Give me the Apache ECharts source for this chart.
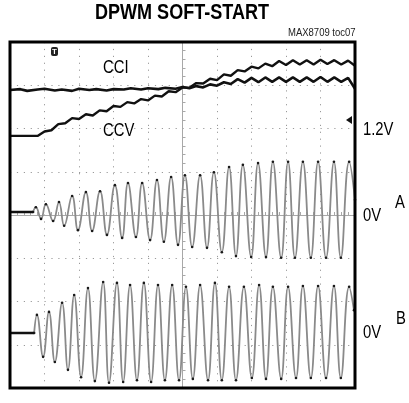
<!DOCTYPE html>
<html><head><meta charset="utf-8">
<script src="https://cdn.jsdelivr.net/npm/echarts@6/dist/echarts.min.js"></script>
<style>html,body{margin:0;padding:0;background:#fff}#c{width:409px;height:403px}</style>
</head><body><div id="c"></div>
<script>
// Units: screen divisions (x: 0..10, y: 0..8)
const title = "DPWM SOFT-START";
const note = "MAX8709 toc07";
const traceLabels = ["CCI", "CCV", "1.2V", "0V", "A", "0V", "B"];

const cciPts = [[0,6.89],[0.3,6.91],[0.5,6.87],[0.8,6.90],[1.0,6.92],[1.3,6.88],[1.5,6.90],[1.8,6.87],[2.0,6.92],[2.3,6.89],[2.5,6.91],[2.8,6.88],[3.0,6.91],[3.3,6.90],[3.5,6.93],[3.8,6.90],[4.0,6.93],[4.3,6.91],[4.5,6.94],[4.8,6.92],[5.0,6.96],[5.2,6.93],[5.4,6.98],[5.6,6.95],[5.8,7.02],[6.0,6.99],[6.2,7.07],[6.4,7.03],[6.6,7.14],[6.8,7.06],[7.0,7.17],[7.2,7.07],[7.4,7.18],[7.6,7.08],[7.8,7.18],[8.0,7.08],[8.2,7.18],[8.4,7.08],[8.6,7.18],[8.8,7.08],[9.0,7.19],[9.2,7.08],[9.4,7.18],[9.6,7.08],[9.8,7.17],[10.0,6.92]];

const ccvPts = [[0,5.83],[0.81,5.83],[1.0,5.93],[1.2,5.96],[1.4,6.10],[1.6,6.12],[1.8,6.24],[2.0,6.22],[2.2,6.33],[2.4,6.30],[2.6,6.42],[2.8,6.40],[3.0,6.52],[3.2,6.50],[3.4,6.61],[3.6,6.58],[3.8,6.68],[4.0,6.65],[4.2,6.76],[4.4,6.74],[4.6,6.86],[4.8,6.84],[5.0,6.95],[5.2,6.94],[5.4,7.05],[5.6,7.04],[5.8,7.15],[6.0,7.12],[6.2,7.25],[6.4,7.22],[6.6,7.35],[6.8,7.32],[7.0,7.43],[7.2,7.39],[7.4,7.50],[7.6,7.44],[7.8,7.56],[8.0,7.47],[8.2,7.58],[8.4,7.48],[8.6,7.58],[8.8,7.48],[9.0,7.59],[9.2,7.49],[9.4,7.58],[9.6,7.48],[9.8,7.57],[10.0,7.45]];

const aLead = [[0,4.07],[0.67,4.07]];
const aPts = [[0.67,4.07],[0.75,4.18],[0.90,3.91],[1.04,4.25],[1.25,3.86],[1.42,4.30],[1.57,3.75],[1.80,4.44],[1.97,3.65],[2.20,4.53],[2.38,3.63],[2.61,4.55],[2.81,3.54],[3.04,4.69],[3.25,3.47],[3.42,4.74],[3.65,3.49],[3.83,4.74],[4.06,3.42],[4.26,4.81],[4.46,3.38],[4.67,4.88],[4.87,3.31],[5.07,4.92],[5.28,3.26],[5.51,4.92],[5.71,3.24],[5.91,4.99],[6.14,3.14],[6.35,5.11],[6.55,3.05],[6.75,5.16],[6.99,3.03],[7.19,5.20],[7.42,3.03],[7.62,5.23],[7.86,3.01],[8.06,5.23],[8.26,3.01],[8.49,5.23],[8.72,3.01],[8.93,5.23],[9.16,3.01],[9.39,5.23],[9.59,3.01],[9.83,5.23],[10.0,4.35]];

const bLead = [[0,1.27],[0.70,1.27]];
const bPts = [[0.70,1.27],[0.78,1.69],[0.96,0.72],[1.13,1.76],[1.30,0.60],[1.51,1.97],[1.68,0.42],[1.86,2.15],[2.06,0.25],[2.26,2.31],[2.46,0.16],[2.70,2.45],[2.87,0.12],[3.10,2.43],[3.28,0.14],[3.48,2.38],[3.68,0.18],[3.88,2.43],[4.09,0.14],[4.29,2.38],[4.49,0.18],[4.70,2.38],[4.90,0.18],[5.10,2.34],[5.30,0.21],[5.51,2.38],[5.74,0.18],[5.94,2.43],[6.14,0.18],[6.35,2.34],[6.55,0.18],[6.78,2.34],[7.01,0.23],[7.22,2.38],[7.42,0.21],[7.62,2.34],[7.86,0.21],[8.06,2.34],[8.29,0.23],[8.49,2.36],[8.72,0.23],[8.93,2.36],[9.16,0.23],[9.39,2.36],[9.59,0.23],[9.83,2.34],[9.97,1.80]];

const FONT = "'Liberation Sans',Arial,sans-serif";
const chart = echarts.init(document.getElementById('c'), null, {renderer:'canvas'});
const dot = {color:'#9a9a9a', width:1, type:[1.2,5.7]};
const waveLine = {color:'#8a8a8a', width:1.8};
function lbl(text, x, y, size, sx, extra) {
  return Object.assign({type:'text', x:x, y:y, scaleX:sx, z:30,
    style:{text:text, font:size+"px "+FONT, fill:'#000', textVerticalAlign:'middle'}}, extra||{});
}
const option = {
  animation:false,
  backgroundColor:'#fff',
  grid:{left:10, top:42, right:54, bottom:15, show:true, borderColor:'#000', borderWidth:3, backgroundColor:'transparent', z:10},
  xAxis:[
    {type:'value', min:0, max:10, interval:1, axisLine:{show:false}, axisTick:{show:false}, axisLabel:{show:false}, splitLine:{show:true, lineStyle:dot}},
    {type:'value', min:-5, max:5, interval:1, axisLine:{show:true, onZero:true, onZeroAxisIndex:1, lineStyle:{color:'#a8a8a8', width:1}}, axisTick:{show:false}, minorTick:{show:true, splitNumber:5, length:3, lineStyle:{color:'#a8a8a8'}}, axisLabel:{show:false}, splitLine:{show:false}}
  ],
  yAxis:[
    {type:'value', min:0, max:8, interval:1, axisLine:{show:false}, axisTick:{show:false}, axisLabel:{show:false}, splitLine:{show:true, lineStyle:dot}},
    {type:'value', min:-4, max:4, interval:1, axisLine:{show:true, onZero:true, onZeroAxisIndex:1, lineStyle:{color:'#a8a8a8', width:1}}, axisTick:{show:false}, minorTick:{show:true, splitNumber:5, length:3, lineStyle:{color:'#a8a8a8'}}, axisLabel:{show:false}, splitLine:{show:false}}
  ],
  series:[
    {type:'line', data:aPts, smooth:0.45, symbol:'circle', symbolSize:2.6, showSymbol:true, itemStyle:{color:'#1a1a1a'}, lineStyle:waveLine, z:3},
    {type:'line', data:bPts, smooth:0.45, symbol:'circle', symbolSize:2.6, showSymbol:true, itemStyle:{color:'#1a1a1a'}, lineStyle:waveLine, z:3},
    {type:'line', data:aLead, symbol:'none', lineStyle:{color:'#111', width:2.6}, z:4},
    {type:'line', data:bLead, symbol:'none', lineStyle:{color:'#111', width:2.6}, z:4},
    {type:'line', data:cciPts, symbol:'none', lineStyle:{color:'#111', width:2.6}, z:5},
    {type:'line', data:ccvPts, symbol:'none', lineStyle:{color:'#111', width:2.4}, z:5}
  ],
  graphic:[
    {type:'text', x:182, y:13, scaleX:0.82, z:30, style:{text:title, font:"bold 22px "+FONT, fill:'#000', textAlign:'center', textVerticalAlign:'middle'}},
    lbl(note, 288, 33.5, 10, 0.95, {style:{text:note, font:"10px "+FONT, fill:'#222', textVerticalAlign:'middle'}}),
    lbl(traceLabels[0], 103, 68, 19, 0.78),
    lbl(traceLabels[1], 103, 131, 19, 0.78),
    lbl(traceLabels[2], 363, 130, 19, 0.78),
    lbl(traceLabels[3], 363, 216, 19, 0.78),
    lbl(traceLabels[4], 395, 203, 19, 0.78),
    lbl(traceLabels[5], 363, 333, 19, 0.78),
    lbl(traceLabels[6], 396, 319, 19, 0.78),
    {type:'rect', shape:{x:51, y:47, width:7, height:9, r:2}, style:{fill:'#222'}, z:20},
    {type:'text', x:54.5, y:47.5, style:{text:'T', font:"bold 8px "+FONT, fill:'#fff', textAlign:'center'}, z:21},
    {type:'polygon', shape:{points:[[352,116],[352,124],[346,120]]}, style:{fill:'#111'}, z:20}
  ]
};
chart.setOption(option);
</script></body></html>
